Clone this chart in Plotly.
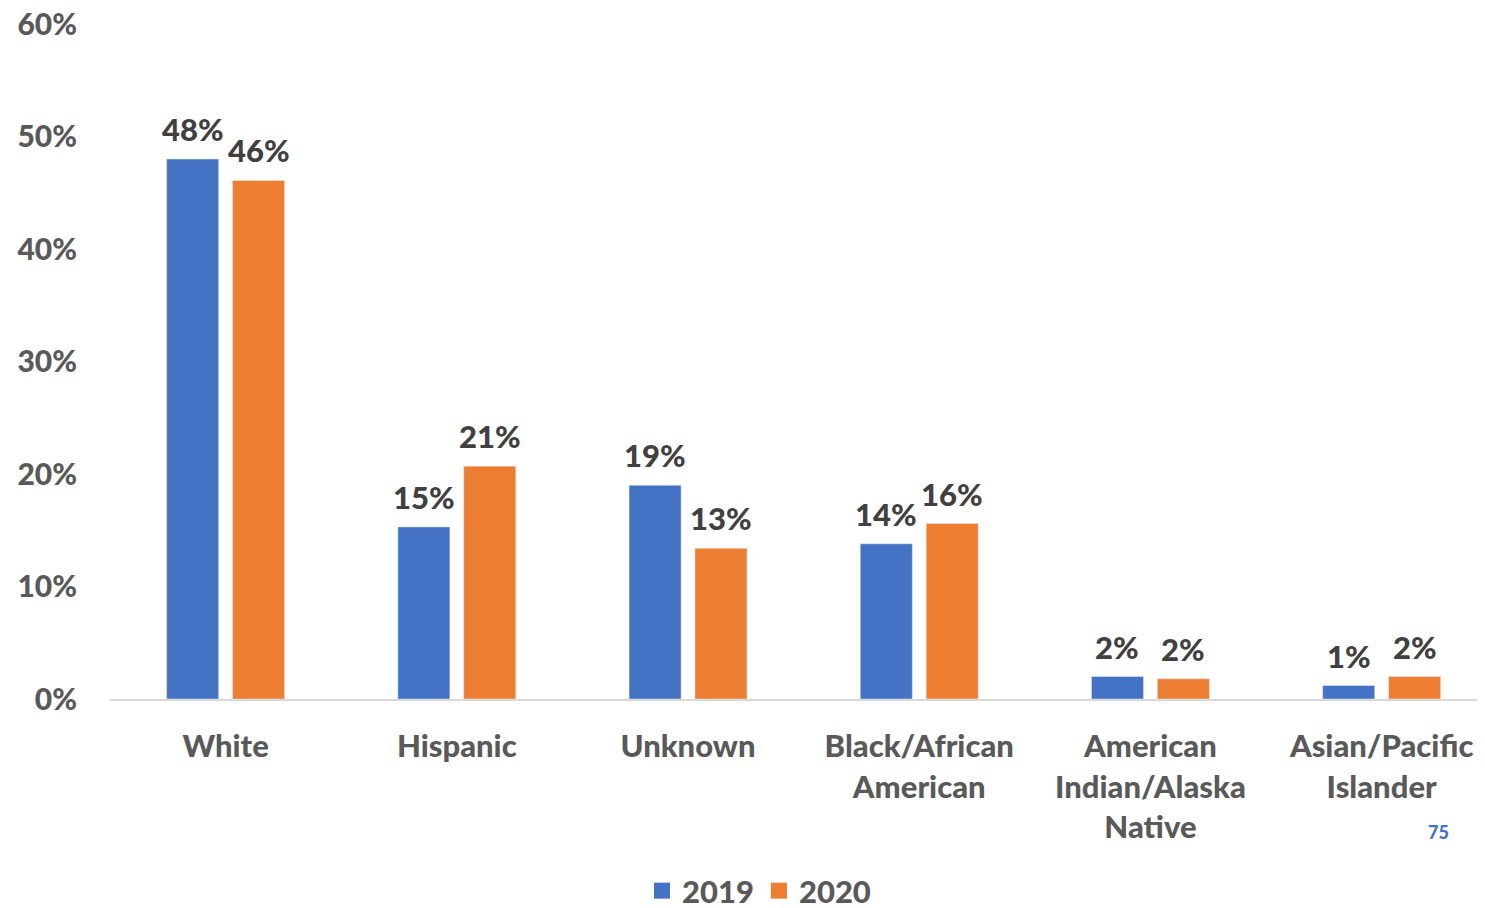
import plotly.graph_objects as go

categories = ["White", "Hispanic", "Unknown", "Black/African<br>American",
              "American<br>Indian/Alaska<br>Native", "Asian/Pacific<br>Islander"]
series_names = ["2019", "2020"]
values_2019 = [0.480, 0.153, 0.190, 0.138, 0.020, 0.012]
values_2020 = [0.461, 0.207, 0.134, 0.156, 0.018, 0.020]
labels_2019 = ["48%", "15%", "19%", "14%", "2%", "1%"]
labels_2020 = ["46%", "21%", "13%", "16%", "2%", "2%"]
y_ticks = [0, 0.1, 0.2, 0.3, 0.4, 0.5, 0.6]
colors = ["#4472C4", "#ED7D31"]

FONT = "Lato"
W = 900
# target plot area in page pixels (page has an 8px body margin)
PL, PR, PT, PB = 110, 1485, 24, 699
PW, PH = PR - PL, PB - PT
OFF = 8

fig = go.Figure()
for name, vals, col in zip(series_names, [values_2019, values_2020], colors):
    fig.add_trace(go.Bar(name=name, x=categories, y=vals, marker_color=col,
                         showlegend=False))
for name, col in zip(series_names, colors):
    fig.add_trace(go.Scatter(name=name, x=[categories[0]], y=[None], mode="markers",
                             marker=dict(symbol="square", size=20, color=col),
                             showlegend=True))

# data labels above each bar
for shift, vals, labs in zip([-33, 33], [values_2019, values_2020],
                             [labels_2019, labels_2020]):
    for cat, v, lab in zip(categories, vals, labs):
        fig.add_annotation(x=cat, y=v, text=lab, showarrow=False, xshift=shift,
                           yshift=30, xanchor="center", yanchor="middle",
                           font=dict(family=FONT, size=31, color="#404040", weight=W))

fig.update_layout(
    width=1485, height=908,
    margin=dict(l=PL - OFF, r=1485 - (PR - OFF), t=PT - OFF, b=908 - (PB - OFF),
                autoexpand=False),
    paper_bgcolor="white", plot_bgcolor="white",
    barmode="group", bargap=0.43, bargroupgap=0.21,
    font=dict(family=FONT, size=30, color="#595959", weight=W),
    showlegend=True,
    legend=dict(orientation="h", x=(759 - PL) / PW, xanchor="center",
                y=-(891 - PB) / PH, yanchor="middle",
                font=dict(family=FONT, size=31, color="#595959", weight=W),
                itemwidth=30, traceorder="normal", tracegroupgap=0),
)
fig.update_xaxes(range=[-0.5, 5.447], showline=True, linecolor="#D9D9D9", linewidth=2,
                 showgrid=False, ticks="", ticklabelstandoff=19, automargin=False,
                 tickfont=dict(family=FONT, size=31, color="#595959", weight=W))
fig.update_yaxes(range=[0, 0.6], tickvals=y_ticks, tickformat=".0%", showgrid=False,
                 zeroline=False, showline=False, ticks="", ticklabelstandoff=32,
                 automargin=False, ticklabeloverflow="allow",
                 tickfont=dict(family=FONT, size=30, color="#595959", weight=W))
fig.add_annotation(text="75", xref="paper", yref="paper", x=(1438 - PL) / PW,
                   y=-(832 - PB) / PH, showarrow=False, xanchor="center",
                   yanchor="middle",
                   font=dict(family=FONT, size=18, color="#4472C4"))
fig.write_html("out.html")
